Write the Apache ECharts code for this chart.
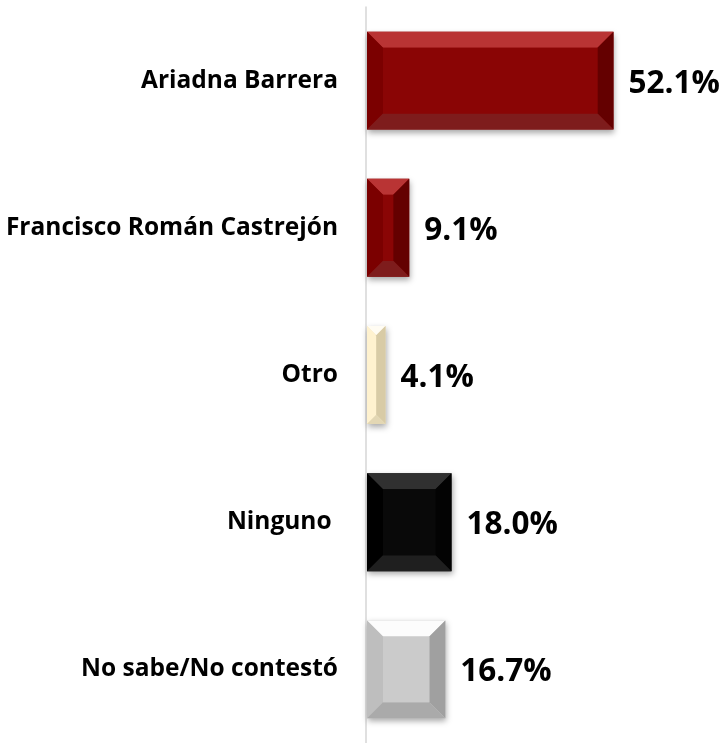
<!DOCTYPE html>
<html>
<head>
<meta charset="utf-8">
<script src="https://cdn.jsdelivr.net/npm/echarts@6/dist/echarts.min.js"></script>
<style>
html,body{margin:0;padding:0;background:#fff;}
#chart{width:728px;height:743px;}
</style>
</head>
<body>
<div id="chart"></div>
<script>
const categories = ['Ariadna Barrera', 'Francisco Román Castrejón', 'Otro', 'Ninguno ', 'No sabe/No contestó'];
const values = [52.1, 9.1, 4.1, 18.0, 16.7];

// face colours per bar: [center, top, left, right, bottom]
const palettes = [
  ['#8a0505', '#b93434', '#7b0000', '#640000', '#7e1c1c'],
  ['#8a0505', '#b93434', '#7b0000', '#640000', '#7e1c1c'],
  ['#f2e6c2', '#fffcf3', '#fff2cf', '#d8cba6', '#e3d7b4'],
  ['#090909', '#303030', '#000000', '#030303', '#1f1f1f'],
  ['#cbcbcb', '#fcfcfc', '#bebebe', '#a0a0a0', '#aaaaaa']
];

const chart = echarts.init(document.getElementById('chart'), null, {renderer: 'canvas'});

function renderItem(params, api) {
  const v = api.value(0);
  const c = api.value(1);
  const idx = params.dataIndex;
  const pal = palettes[idx];
  const p0 = api.coord([0, c]);
  const p1 = api.coord([v, c]);
  const band = api.size([0, 1])[1];
  const h = band * 0.665;
  const x0 = p0[0] + 1, x1 = p1[0];
  const y0 = p0[1] - h / 2, y1 = p0[1] + h / 2;
  const w = x1 - x0;
  const d = Math.min(16, w / 2, h / 2);
  const children = [];
  children.push({
    type: 'rect',
    shape: {x: x0, y: y0, width: w, height: h},
    style: {fill: pal[0], shadowBlur: 6, shadowOffsetX: 1, shadowOffsetY: 3, shadowColor: 'rgba(0,0,0,0.35)'}
  });
  const face = (pts, col) => children.push({type: 'polygon', shape: {points: pts}, style: {fill: col}});
  face([[x0, y0], [x1, y0], [x1 - d, y0 + d], [x0 + d, y0 + d]], pal[1]);
  face([[x0, y0], [x0 + d, y0 + d], [x0 + d, y1 - d], [x0, y1]], pal[2]);
  face([[x1, y0], [x1 - d, y0 + d], [x1 - d, y1 - d], [x1, y1]], pal[3]);
  face([[x0, y1], [x0 + d, y1 - d], [x1 - d, y1 - d], [x1, y1]], pal[4]);
  if (w - 2 * d > 0 && h - 2 * d > 0) {
    children.push({type: 'rect', shape: {x: x0 + d, y: y0 + d, width: w - 2 * d, height: h - 2 * d}, style: {fill: pal[0]}});
  }
  children.push({
    type: 'text',
    style: {
      x: x1 + 15, y: p0[1] + 3,
      text: v.toFixed(1) + '%',
      fill: '#000',
      font: 'bold 31.5px "Open Sans"',
      textAlign: 'left', textVerticalAlign: 'middle', verticalAlign: 'middle'
    }
  });
  return {type: 'group', children: children};
}

chart.setOption({
  animation: false,
  grid: {left: 366, top: 7, width: 285, height: 737, containLabel: false},
  xAxis: {type: 'value', min: 0, max: 60, show: false},
  yAxis: {
    type: 'category',
    data: categories,
    inverse: true,
    axisLine: {show: true, lineStyle: {color: '#d6d6d6', width: 1.5}},
    axisTick: {show: false},
    splitLine: {show: false},
    axisLabel: {
      margin: 28,
      color: '#000',
      fontFamily: 'Open Sans',
      fontWeight: 'bold',
      fontSize: 24.5
    }
  },
  series: [{
    type: 'custom',
    renderItem: renderItem,
    encode: {x: 0, y: 1},
    data: values.map((v, i) => [v, i])
  }]
});
</script>
</body>
</html>
